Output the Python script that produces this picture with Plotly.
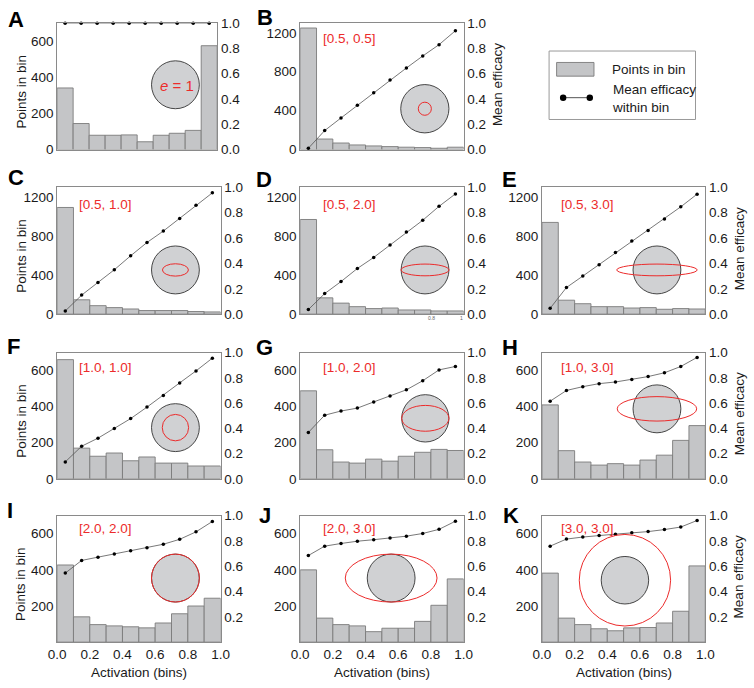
import plotly.graph_objects as go

W, H = 754, 688
FONT = "Liberation Sans, Arial, sans-serif"

# ---------------- data ----------------
bin_centers = [0.05, 0.15, 0.25, 0.35, 0.45, 0.55, 0.65, 0.75, 0.85, 0.95]
x_ticks = [0.0, 0.2, 0.4, 0.6, 0.8, 1.0]
panel_letters = ["A", "B", "C", "D", "E", "F", "G", "H", "I", "J", "K"]
panel_labels = ["<i>e</i> = 1", "[0.5, 0.5]", "[0.5, 1.0]", "[0.5, 2.0]", "[0.5, 3.0]",
                "[1.0, 1.0]", "[1.0, 2.0]", "[1.0, 3.0]", "[2.0, 2.0]", "[2.0, 3.0]", "[3.0, 3.0]"]

counts_A = [341, 144, 79, 79, 81, 43, 79, 90, 106, 575]
counts_B = [1250, 108, 67, 47, 37, 30, 24, 20, 13, 24]
counts_C = [1093, 147, 87, 67, 53, 37, 37, 37, 27, 23]
counts_D = [970, 167, 113, 77, 57, 63, 43, 43, 33, 33]
counts_E = [940, 143, 107, 77, 77, 63, 67, 50, 57, 53]
counts_F = [661, 170, 125, 143, 100, 121, 87, 87, 71, 71]
counts_G = [488, 161, 93, 87, 109, 98, 125, 147, 163, 157]
counts_H = [410, 156, 93, 76, 84, 76, 104, 131, 213, 295]
counts_I = [427, 140, 97, 90, 85, 79, 106, 157, 200, 243]
counts_J = [400, 133, 97, 90, 58, 77, 77, 115, 204, 350]
counts_K = [382, 133, 97, 74, 63, 79, 81, 106, 171, 422]

eff_A = [1.0, 1.0, 1.0, 1.0, 1.0, 1.0, 1.0, 1.0, 1.0, 1.0]
eff_B = [0.01, 0.15, 0.25, 0.35, 0.45, 0.55, 0.645, 0.74, 0.83, 0.94]
eff_C = [0.025, 0.15, 0.25, 0.35, 0.46, 0.565, 0.655, 0.753, 0.858, 0.956]
eff_D = [0.036, 0.162, 0.257, 0.36, 0.447, 0.545, 0.648, 0.74, 0.85, 0.948]
eff_E = [0.046, 0.21, 0.30, 0.39, 0.486, 0.576, 0.66, 0.75, 0.846, 0.946]
eff_F = [0.134, 0.258, 0.322, 0.398, 0.477, 0.568, 0.661, 0.76, 0.855, 0.956]
eff_G = [0.367, 0.504, 0.537, 0.56, 0.609, 0.656, 0.705, 0.777, 0.863, 0.89]
eff_H = [0.615, 0.70, 0.73, 0.754, 0.767, 0.787, 0.81, 0.84, 0.89, 0.962]
eff_I = [0.546, 0.646, 0.672, 0.697, 0.723, 0.746, 0.774, 0.813, 0.872, 0.954]
eff_J = [0.685, 0.759, 0.78, 0.798, 0.81, 0.823, 0.838, 0.859, 0.892, 0.956]
eff_K = [0.759, 0.815, 0.831, 0.844, 0.854, 0.864, 0.874, 0.89, 0.91, 0.962]

left_ticks_small = [0, 200, 400, 600]
left_ticks_big = [0, 400, 800, 1200]
left_ticks_bottom = [200, 400, 600]
right_ticks = [0.0, 0.2, 0.4, 0.6, 0.8, 1.0]
right_ticks_bottom = [0.2, 0.4, 0.6, 0.8, 1.0]

counts = [counts_A, counts_B, counts_C, counts_D, counts_E, counts_F,
          counts_G, counts_H, counts_I, counts_J, counts_K]
effs = [eff_A, eff_B, eff_C, eff_D, eff_E, eff_F, eff_G, eff_H, eff_I, eff_J, eff_K]

# ---------------- layout geometry (pixels) ----------------
frames = [
    (49.3, 213.3, 16.5, 145.7),   # A
    (298.3, 465.7, 16.5, 145.7),  # B
    (49.3, 216.7, 184.3, 314.0),  # C
    (298.3, 465.7, 184.3, 314.0), # D
    (546.0, 713.3, 184.3, 314.0), # E
    (49.3, 216.7, 353.3, 482.3),  # F
    (298.3, 465.7, 353.3, 482.3), # G
    (546.0, 713.3, 353.3, 482.3), # H
    (49.3, 216.7, 520.0, 649.3),  # I
    (298.3, 465.7, 520.0, 649.3), # J
    (546.0, 713.3, 520.0, 649.3), # K
]
yranges = [700, 1300, 1300, 1300, 1300, 700, 700, 700, 700, 700, 700]
lticks = [left_ticks_small, left_ticks_big, left_ticks_big, left_ticks_big, left_ticks_big,
          left_ticks_small, left_ticks_small, left_ticks_small,
          left_ticks_bottom, left_ticks_bottom, left_ticks_bottom]
rticks = [right_ticks] * 8 + [right_ticks_bottom] * 3
bottom_row = [False] * 8 + [True] * 3
left_title = [True, False, True, False, False, True, False, False, True, False, False]
right_title = [False, True, False, False, True, False, False, True, False, False, True]

insets = [
    (170.5, 79.5, 24.5, None, None),
    (426.0, 104.0, 24.7, 6.7, 6.7),
    (170.5, 268.8, 24.5, 13.3, 6.3),
    (426.2, 268.8, 24.5, 24.5, 6.0),
    (663.8, 268.8, 24.5, 41.2, 6.0),
    (170.5, 430.0, 24.5, 13.5, 13.5),
    (426.5, 420.5, 24.2, 24.2, 13.2),
    (663.8, 410.8, 24.5, 40.7, 12.5),
    (170.5, 583.8, 24.5, 24.5, 24.5),
    (391.5, 583.8, 24.5, 47.0, 24.5),
    (631.0, 586.0, 24.3, 46.8, 46.8),
]
label_pos = [(172, 80), (348.7, 32.3), (99, 201.7), (348.7, 201.7), (592.3, 201.7),
             (99, 368.3), (348.7, 368.3), (592.3, 368.3), (99, 532.7), (348.7, 532.7), (592.3, 532.7)]
letter_pos = [(7, 13), (262.5, 11), (7, 174), (261, 176), (513, 176), (5, 347), (261.7, 348),
              (513, 348), (1.5, 515), (262, 520), (514, 520)]

BAR_FILL = "#c4c5c7"
BAR_LINE = "#7b7b7b"
FRAME = "#8a8a8a"
RED = "#ec2b2b"
TXT = "#1a1a1a"


def px(x):
    return x / W


def py(y):
    return 1 - y / H


def ellipse(cx, cy, rx, ry, **kw):
    return dict(type="circle", xref="paper", yref="paper",
                x0=px(cx - rx), x1=px(cx + rx), y0=py(cy + ry), y1=py(cy - ry), **kw)


fig = go.Figure()
layout = dict(width=W, height=H, autosize=False,
              margin=dict(l=0, r=0, t=0, b=0),
              paper_bgcolor="white", plot_bgcolor="white",
              showlegend=False, font=dict(family=FONT, size=13, color=TXT))
shapes = []
annotations = []

for i in range(11):
    n = i + 1
    xa = "x" if n == 1 else f"x{n}"
    yl_n = 2 * i + 1
    yr_n = 2 * i + 2
    yl = "y" if yl_n == 1 else f"y{yl_n}"
    yr = f"y{yr_n}"
    L, R, T, B = frames[i]

    fig.add_trace(go.Bar(x=bin_centers, y=counts[i], width=0.1, xaxis=xa, yaxis=yl,
                         marker=dict(color=BAR_FILL, line=dict(color=BAR_LINE, width=0.9)),
                         name="Points in bin"))
    fig.add_trace(go.Scatter(x=bin_centers, y=effs[i], xaxis=xa, yaxis=yr, mode="lines+markers",
                             line=dict(color="#555555", width=0.8),
                             marker=dict(color="black", size=3.5),
                             cliponaxis=False, name="Mean efficacy within bin"))

    xkey = "xaxis" if n == 1 else f"xaxis{n}"
    ylkey = "yaxis" if yl_n == 1 else f"yaxis{yl_n}"
    yrkey = f"yaxis{yr_n}"
    layout[xkey] = dict(domain=[px(L), px(R)], range=[0, 1], anchor=yl,
                        showline=True, mirror=True, linecolor=FRAME, linewidth=1,
                        ticks="", showgrid=False, zeroline=False,
                        tickvals=x_ticks, tickformat=".1f",
                        showticklabels=bottom_row[i], tickfont=dict(size=13.5))
    layout[ylkey] = dict(domain=[py(B), py(T)], range=[0, yranges[i]], anchor=xa,
                         showline=True, linecolor=FRAME, linewidth=1, ticks="",
                         showgrid=False, zeroline=False, tickvals=lticks[i],
                         tickfont=dict(size=13.5), side="left")
    layout[yrkey] = dict(overlaying=yl, side="right", anchor=xa, range=[0, 1],
                         showline=True, linecolor=FRAME, linewidth=1, ticks="",
                         showgrid=False, zeroline=False, tickvals=rticks[i],
                         tickformat=".1f", tickfont=dict(size=13.5))

    cx, cy, rg, rx, ry = insets[i]
    shapes.append(ellipse(cx, cy, rg, rg, fillcolor="#d0d1d3", line=dict(color="#333333", width=0.9)))
    if rx is not None:
        shapes.append(ellipse(cx, cy, rx, ry, fillcolor="rgba(0,0,0,0)", line=dict(color=RED, width=1)))

    lx, ly = label_pos[i]
    annotations.append(dict(text=panel_labels[i], x=px(lx), y=py(ly), xref="paper", yref="paper",
                            showarrow=False, xanchor="center", yanchor="middle",
                            font=dict(size=15 if i == 0 else 13.5, color=RED)))
    gx, gy = letter_pos[i]
    annotations.append(dict(text=f"<b>{panel_letters[i]}</b>", x=px(gx), y=py(gy),
                            xref="paper", yref="paper", showarrow=False,
                            xanchor="center", yanchor="middle",
                            font=dict(size=22, color="black")))
    if left_title[i]:
        annotations.append(dict(text="Points in bin", x=px(12.5), y=py((T + B) / 2 + 5),
                                xref="paper", yref="paper", showarrow=False, textangle=-90,
                                xanchor="center", yanchor="middle", font=dict(size=13.5)))
    if right_title[i]:
        annotations.append(dict(text="Mean efficacy", x=px(R + 35), y=py((T + B) / 2 - 2),
                                xref="paper", yref="paper", showarrow=False, textangle=-90,
                                xanchor="center", yanchor="middle", font=dict(size=13.5)))
    if bottom_row[i]:
        annotations.append(dict(text="Activation (bins)", x=px((L + R) / 2), y=py(680),
                                xref="paper", yref="paper", showarrow=False,
                                xanchor="center", yanchor="middle", font=dict(size=13.5)))

for t, xx in (("0.8", 432.7), ("1", 463.3)):
    annotations.append(dict(text=t, x=px(xx), y=py(318), xref="paper", yref="paper",
                            showarrow=False, font=dict(size=5, color="#666666")))

# legend box
shapes.append(dict(type="rect", xref="paper", yref="paper", x0=px(553.3), x1=px(703.3),
                   y0=py(115), y1=py(45), line=dict(color="#999999", width=1), fillcolor="white"))
shapes.append(dict(type="rect", xref="paper", yref="paper", x0=px(561), x1=px(599.3),
                   y0=py(70.7), y1=py(56.7), line=dict(color=BAR_LINE, width=0.9), fillcolor=BAR_FILL))
shapes.append(dict(type="line", xref="paper", yref="paper", x0=px(567.7), x1=px(595),
                   y0=py(92.7), y1=py(92.7), line=dict(color="#555555", width=1)))
for xx in (567.7, 595):
    shapes.append(ellipse(xx, 92.7, 3.3, 3.3, fillcolor="black", line=dict(color="black", width=0)))
annotations.append(dict(text="Points in bin", x=px(615.7), y=py(63.5), xref="paper", yref="paper",
                        showarrow=False, xanchor="left", yanchor="middle", font=dict(size=13.5)))
annotations.append(dict(text="Mean efficacy<br>within bin", x=px(615.7), y=py(93.5), xref="paper",
                        yref="paper", showarrow=False, xanchor="left", yanchor="middle", align="left",
                        font=dict(size=13.5)))

layout["shapes"] = shapes
layout["annotations"] = annotations
fig.update_layout(**layout)

fig.write_html("out.html", config={"displayModeBar": False},
               post_script="document.body.style.margin='0';")
